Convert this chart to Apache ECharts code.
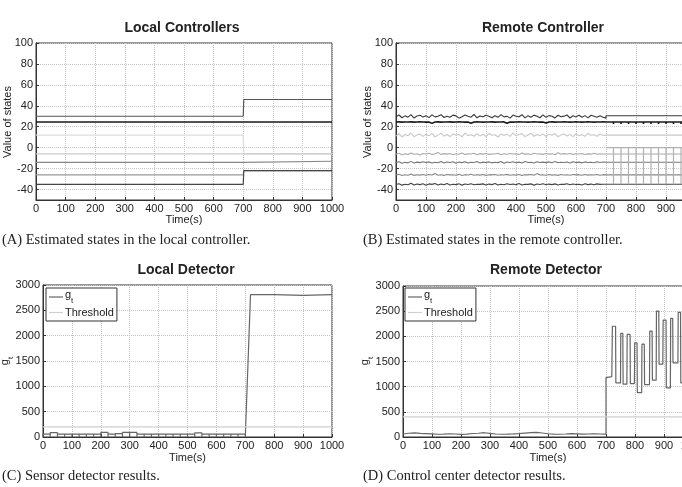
<!DOCTYPE html>
<html>
<head>
<meta charset="utf-8">
<script src="https://cdn.jsdelivr.net/npm/echarts@6/dist/echarts.min.js"></script>
<style>
html, body { margin: 0; padding: 0; background: #fff; }
#main { width: 682px; height: 487px; }
</style>
</head>
<body>
<div id="main"></div>
<script>
// ---- data ----
var stateTimes = [0, 10, 20, 30, 40, 50, 60, 70, 80, 90, 100, 110, 120, 130, 140, 150, 160, 170, 180, 190,
  200, 210, 220, 230, 240, 250, 260, 270, 280, 290, 300, 310, 320, 330, 340, 350, 360, 370, 380, 390,
  400, 410, 420, 430, 440, 450, 460, 470, 480, 490, 500, 510, 520, 530, 540, 550, 560, 570, 580, 590,
  600, 610, 620, 630, 640, 650, 660, 670, 680, 690, 700];

// remote controller, noisy part (0-700 s)
var remote1 = [29.5, 31.2, 28.6, 30.4, 29.1, 31.6, 28.3, 30.2, 31.0, 29.2,
  30.6, 28.7, 31.3, 29.4, 30.1, 31.5, 28.8, 30.0, 29.0, 31.1,
  30.4, 28.2, 29.6, 31.2, 30.0, 29.1, 31.7, 28.5, 30.2, 29.6,
  31.0, 30.1, 28.6, 30.5, 29.0, 31.6, 29.4, 30.1, 28.2, 31.2,
  30.0, 29.5, 31.5, 28.5, 30.6, 29.1, 31.1, 30.0, 28.6, 31.4,
  29.0, 30.6, 30.0, 28.4, 31.0, 29.5, 30.1, 31.2, 28.3, 30.5,
  29.4, 31.0, 29.0, 30.6, 28.5, 31.0, 30.0, 29.0, 30.4, 29.0, 28.2];
var remote2 = [24.5, 24.6, 24.4, 24.5, 24.5, 24.6, 24.4, 24.5, 24.6, 24.5,
  24.4, 24.5, 23.2, 24.5, 24.6, 24.4, 24.5, 24.5, 24.6, 24.4,
  24.5, 24.6, 24.5, 24.4, 24.5, 23.4, 24.5, 24.6, 24.5, 24.4,
  24.5, 24.5, 24.6, 24.4, 24.5, 24.5, 24.6, 23.3, 24.5, 24.4,
  24.5, 24.6, 24.5, 24.5, 24.4, 24.5, 24.6, 24.5, 24.4, 24.5,
  23.5, 24.5, 24.6, 24.4, 24.5, 24.5, 24.6, 24.5, 24.4, 24.5,
  24.6, 24.5, 24.4, 24.5, 24.6, 24.5, 24.4, 24.5, 24.5, 24.6, 24.5];
var remote3 = [11.0, 13.5, 10.2, 12.6, 11.4, 14.0, 10.5, 12.2, 13.1, 10.8,
  12.9, 11.3, 13.6, 10.4, 12.0, 13.8, 11.0, 12.5, 10.6, 13.2,
  11.8, 12.7, 10.3, 13.9, 11.5, 12.4, 10.9, 13.4, 11.2, 12.8,
  10.5, 13.6, 11.9, 12.3, 10.2, 13.1, 11.6, 12.9, 10.8, 14.1,
  11.3, 12.5, 13.4, 10.6, 12.1, 13.8, 10.9, 12.6, 11.4, 13.2,
  10.7, 12.9, 11.8, 13.5, 10.4, 12.2, 13.0, 11.1, 12.7, 10.6,
  13.3, 11.5, 12.4, 10.8, 13.6, 11.9, 12.3, 10.9, 13.0, 11.6, 12.0];
var remote4 = [-6.2, -5.4, -6.8, -5.9, -6.5, -5.1, -6.3, -5.8, -6.9, -5.6,
  -6.1, -5.3, -6.6, -5.9, -4.6, -6.4, -5.7, -6.2, -5.5, -6.7,
  -5.8, -6.3, -5.2, -6.6, -5.9, -6.1, -5.4, -6.8, -5.7, -6.2,
  -5.5, -6.4, -5.9, -6.0, -5.3, -6.7, -5.8, -6.3, -5.6, -6.1,
  -5.9, -6.5, -5.2, -6.2, -5.8, -6.6, -5.4, -6.1, -5.9, -6.4,
  -5.6, -6.2, -5.9, -6.7, -4.8, -6.3, -5.7, -6.0, -5.5, -6.4,
  -5.8, -6.1, -5.6, -6.5, -5.9, -6.2, -5.4, -6.3, -5.8, -6.0, -6.0];
var remote5 = [-14.2, -13.4, -14.8, -13.9, -14.5, -13.1, -14.6, -13.8, -14.3, -13.5,
  -14.1, -13.6, -14.7, -13.9, -14.4, -13.2, -14.6, -13.7, -14.2, -13.5,
  -14.9, -13.8, -14.3, -13.4, -14.6, -13.9, -14.1, -13.3, -14.7, -13.8,
  -14.2, -13.6, -14.5, -13.9, -14.3, -13.2, -14.8, -13.7, -14.1, -13.5,
  -14.4, -13.8, -14.6, -13.3, -14.2, -13.9, -14.7, -13.5, -14.1, -13.8,
  -14.3, -13.6, -14.5, -13.1, -14.4, -13.9, -14.2, -13.7, -14.6, -13.4,
  -14.1, -13.8, -14.5, -13.6, -14.2, -13.9, -14.4, -13.5, -14.1, -13.7, -14.0];
var remote6 = [-26.1, -25.5, -26.6, -25.8, -26.3, -25.2, -26.5, -25.9, -26.2, -25.6,
  -26.4, -25.7, -26.1, -24.6, -26.3, -25.8, -26.5, -25.6, -26.0, -25.9,
  -26.3, -25.5, -26.6, -25.8, -26.1, -25.4, -26.4, -25.9, -26.2, -25.7,
  -26.5, -25.8, -26.0, -25.6, -26.3, -25.9, -26.1, -25.5, -26.4, -25.8,
  -26.2, -25.6, -26.5, -25.9, -26.0, -25.7, -26.3, -24.8, -26.1, -25.9,
  -26.4, -25.6, -26.2, -25.8, -26.5, -25.7, -26.1, -25.9, -26.3, -25.6,
  -26.0, -25.8, -26.4, -25.7, -26.2, -25.9, -26.1, -25.6, -26.3, -25.8, -26.0];
var remote7 = [-35.2, -34.4, -35.8, -34.9, -35.5, -34.1, -35.6, -34.7, -35.3, -34.5,
  -35.9, -34.6, -35.1, -34.3, -35.7, -34.8, -35.4, -34.2, -35.6, -34.9,
  -35.3, -34.5, -35.8, -34.7, -35.2, -34.4, -35.5, -34.9, -35.1, -34.6,
  -35.6, -34.8, -35.3, -34.2, -35.7, -34.9, -35.4, -34.5, -35.2, -34.8,
  -35.5, -34.3, -35.6, -34.9, -35.1, -34.6, -35.8, -34.7, -35.2, -34.4,
  -35.5, -34.8, -35.3, -34.6, -35.7, -34.9, -35.1, -34.5, -35.4, -34.7,
  -35.2, -34.9, -35.6, -34.5, -35.3, -34.8, -35.5, -34.6, -35.1, -34.9, -35.0];
// remote controller levels after the attack at 700 s
var remoteAfter = [30.5, 24.5, 12, -6, -14, -26, -35];
var spikeTimes = [725, 750, 775, 800, 825, 850, 875, 900, 925, 950, 975, 1000];
var spikeTop = 0, spikeBottom = -35, tickDip = 22.5;

// local controllers: level before and after 700 s
var localTimes = [0, 700, 702, 1000];
var localBefore = [30, 24.5, 12, -6, -14, -26, -35];
var localAfter = [46, 24.5, -6, -6, -13, -22, -22];

// local detector
var boxEdges = [0, 25, 50, 75, 100, 125, 150, 175, 200, 225, 250, 275, 300, 325, 350,
  375, 400, 425, 450, 475, 500, 525, 550, 575, 600, 625, 650, 675, 700];
var boxHeights = [55, 85, 55, 55, 55, 55, 55, 55, 90, 55, 65, 90, 90, 55,
  55, 55, 55, 55, 55, 55, 55, 80, 55, 55, 55, 55, 55, 55];
var localJumpTimes = [700, 718, 800, 900, 1000];
var localJumpValues = [0, 2810, 2810, 2795, 2810];

// remote detector
var remoteDetTimes = [0, 20, 40, 60, 80, 100, 120, 140, 160, 180, 200, 220, 240, 260, 280, 300, 320, 340,
  360, 380, 400, 420, 440, 460, 480, 500, 520, 540, 560, 580, 600, 620, 640, 660, 680, 700];
var remoteDetBefore = [60, 75, 80, 72, 68, 62, 55, 58, 65, 60, 52, 58, 70, 75, 85, 72, 60, 55,
  58, 62, 68, 78, 88, 92, 80, 65, 58, 55, 60, 66, 62, 58, 60, 62, 60, 58];
var remoteAttackTimes = [700, 720, 722, 733, 734, 750, 751, 758, 759, 772, 773, 783, 784, 798, 799, 807,
  808, 823, 824, 832, 833, 850, 851, 859, 860, 873, 874, 882, 883, 896, 897, 907, 908, 922, 923, 930,
  931, 948, 949, 957, 958, 972, 973, 981, 982, 1000];
var remoteAttackValues = [1180, 1200, 2200, 2200, 1075, 1075, 2057, 2057, 1049, 1049, 2037, 2037, 1062, 1062, 1872, 1872,
  883, 883, 1845, 1845, 1042, 1042, 2104, 2104, 1128, 1128, 2502, 2502, 1447, 1447, 2323, 2323, 976, 976, 2356, 2356,
  1473, 1473, 2476, 2476, 1075, 1075, 2250, 2250, 1300, 1300];
var localThreshold = 200, remoteThreshold = 400;

var stateTicks = [-40, -20, 0, 20, 40, 60, 80, 100];
var xMax = 1000;

// ---- build series ----
var sans = 'Liberation Sans';
var remoteNoisy = [remote1, remote2, remote3, remote4, remote5, remote6, remote7];
var remoteColors = ['#3a3a3a', '#1a1a1a', '#c8c8c8', '#aaa', '#777', '#888', '#444'];
var localColors = ['#555', '#1a1a1a', '#ddd', '#ccc', '#888', '#999', '#444'];

var series = [];

localBefore.forEach(function (b, i) {
  var vals = [b, b, localAfter[i], localAfter[i]];
  series.push({
    type: 'line', xAxisIndex: 0, yAxisIndex: 0, symbol: 'none', silent: true,
    lineStyle: { color: localColors[i], width: i === 1 ? 1.6 : 1.2 },
    data: localTimes.map(function (t, k) { return [t, vals[k]]; })
  });
});

remoteNoisy.forEach(function (arr, i) {
  var d = stateTimes.map(function (t, k) { return [t, arr[k]]; });
  d.push([700, remoteAfter[i]]);
  if (i === 1) {
    spikeTimes.forEach(function (t) {
      d.push([t, remoteAfter[i]], [t, tickDip], [t, remoteAfter[i]]);
    });
  }
  d.push([xMax, remoteAfter[i]]);
  series.push({
    type: 'line', xAxisIndex: 1, yAxisIndex: 1, symbol: 'none', silent: true,
    lineStyle: { color: remoteColors[i], width: i === 1 ? 1.6 : 1.1 },
    data: d
  });
});

var spikeData = [[700, spikeTop]];
spikeTimes.forEach(function (t) {
  spikeData.push([t, spikeTop], [t, spikeBottom], [t, spikeTop]);
});
series.push({
  type: 'line', xAxisIndex: 1, yAxisIndex: 1, symbol: 'none', silent: true,
  lineStyle: { color: '#b0b0b0', width: 1.2 },
  data: spikeData
});

// local detector
var ldData = [];
boxHeights.forEach(function (h, i) {
  ldData.push([boxEdges[i], 0], [boxEdges[i], h], [boxEdges[i + 1], h], [boxEdges[i + 1], 0]);
});
localJumpTimes.forEach(function (t, k) { ldData.push([t, localJumpValues[k]]); });
series.push({
  name: 'g_t', type: 'line', xAxisIndex: 2, yAxisIndex: 2, symbol: 'none', silent: true,
  lineStyle: { color: '#666', width: 1.2 }, itemStyle: { color: '#666' },
  data: ldData
});
series.push({
  name: 'Threshold', type: 'line', xAxisIndex: 2, yAxisIndex: 2, symbol: 'none', silent: true,
  lineStyle: { color: '#d0d0d0', width: 1.2 }, itemStyle: { color: '#d0d0d0' },
  data: [[0, localThreshold], [xMax, localThreshold]]
});

// remote detector
var rdData = remoteDetTimes.map(function (t, k) { return [t, remoteDetBefore[k]]; });
remoteAttackTimes.forEach(function (t, k) { rdData.push([t, remoteAttackValues[k]]); });
series.push({
  name: 'g_t', type: 'line', xAxisIndex: 3, yAxisIndex: 3, symbol: 'none', silent: true,
  lineStyle: { color: '#666', width: 1.2 }, itemStyle: { color: '#666' },
  data: rdData
});
series.push({
  name: 'Threshold', type: 'line', xAxisIndex: 3, yAxisIndex: 3, symbol: 'none', silent: true,
  lineStyle: { color: '#d0d0d0', width: 1.2 }, itemStyle: { color: '#d0d0d0' },
  data: [[0, remoteThreshold], [xMax, remoteThreshold]]
});

// ---- axes ----
var splitStyle = { lineStyle: { color: '#c4c4c4', type: 'dotted', width: 1 } };
var subRich = {
  a: { fontSize: 11, fill: '#222', color: '#222', fontFamily: sans, lineHeight: 16, verticalAlign: 'top' },
  b: { fontSize: 8, fill: '#222', color: '#222', fontFamily: sans, lineHeight: 16, verticalAlign: 'bottom' }
};
function plain(v) { return String(v); }

function xAx(gi, gap) {
  return {
    type: 'value', gridIndex: gi, min: 0, max: xMax, interval: 100,
    name: 'Time(s)', nameLocation: 'middle', nameGap: gap,
    nameTextStyle: { fontSize: 11, color: '#222', fontFamily: sans },
    axisLine: { onZero: false, lineStyle: { color: '#333' } },
    axisTick: { inside: true, length: 3, lineStyle: { color: '#333' } },
    axisLabel: { margin: 3, fontSize: 11, color: '#222', fontFamily: sans, formatter: plain },
    splitLine: splitStyle
  };
}
function yStates(gi) {
  return {
    type: 'value', gridIndex: gi, min: -50, max: 100,
    axisLine: { show: true, onZero: false, lineStyle: { color: '#333' } },
    axisTick: { show: true, inside: true, length: 3, customValues: stateTicks, lineStyle: { color: '#333' } },
    axisLabel: { margin: 3, fontSize: 11, color: '#222', fontFamily: sans, customValues: stateTicks, formatter: plain },
    splitLine: splitStyle
  };
}
function yDet(gi) {
  return {
    type: 'value', gridIndex: gi, min: 0, max: 3000, interval: 500,
    axisLine: { show: true, onZero: false, lineStyle: { color: '#333' } },
    axisTick: { show: true, inside: true, length: 3, lineStyle: { color: '#333' } },
    axisLabel: { margin: 3, fontSize: 11, color: '#222', fontFamily: sans, formatter: plain },
    splitLine: splitStyle
  };
}
function legendAt(left, top) {
  return {
    data: ['g_t', 'Threshold'], orient: 'vertical', left: left, top: top,
    backgroundColor: '#fff', borderColor: '#333', borderWidth: 1, borderRadius: 0,
    padding: [1, 3, 1, 3], itemGap: 0, itemWidth: 14, itemHeight: 1.2, icon: 'rect',
    selectedMode: false,
    formatter: function (n) { return n === 'g_t' ? '{a|g}{b|t}' : n; },
    textStyle: { fontSize: 11, color: '#222', fontFamily: sans, padding: [0, 0, 0, -3], lineHeight: 15, rich: subRich }
  };
}

function label(text, x, y, opts) {
  return {
    type: 'text', x: x, y: y, silent: true,
    style: Object.assign({
      text: text, fill: '#222', align: 'left', verticalAlign: 'middle',
      font: '14.5px "Liberation Serif"'
    }, opts || {})
  };
}
function vLabel(text, x, y, rich) {
  var g = label(text, x, y, { align: 'center', font: '11px "Liberation Sans"', rich: rich });
  g.rotation = Math.PI / 2;
  return g;
}
var titleFont = 'bold 14px "Liberation Sans"';
function gridAt(l, t, w, h) {
  return { left: l, top: t, width: w, height: h, show: true, borderColor: '#333', borderWidth: 1,
    outerBoundsMode: 'none', containLabel: false };
}

var myChart = echarts.init(document.getElementById('main'));
var option = {
  animation: false,
  backgroundColor: '#fff',
  grid: [gridAt(36, 43, 296, 157), gridAt(396, 43, 300, 157), gridAt(43, 285, 289, 152), gridAt(403, 286, 290, 151)],
  xAxis: [xAx(0, 14), xAx(1, 14), xAx(2, 15), xAx(3, 15)],
  yAxis: [yStates(0), yStates(1), yDet(2), yDet(3)],
  legend: [legendAt(46, 288), legendAt(405, 288)],
  graphic: [
    label('Local Controllers', 182, 28, { align: 'center', font: titleFont }),
    label('Remote Controller', 543, 28, { align: 'center', font: titleFont }),
    label('Local Detector', 186, 270, { align: 'center', font: titleFont }),
    label('Remote Detector', 546, 270, { align: 'center', font: titleFont }),
    vLabel('Value of states', 8, 122),
    vLabel('Value of states', 368, 122),
    vLabel('{a|g}{b|t}', 7, 361, subRich),
    vLabel('{a|g}{b|t}', 367, 361, subRich),
    label('(A) Estimated states in the local controller.', 2, 240),
    label('(B) Estimated states in the remote controller.', 363, 240),
    label('(C) Sensor detector results.', 2, 476),
    label('(D) Control center detector results.', 363, 476)
  ],
  series: series
};
myChart.setOption(option);
</script>
</body>
</html>
